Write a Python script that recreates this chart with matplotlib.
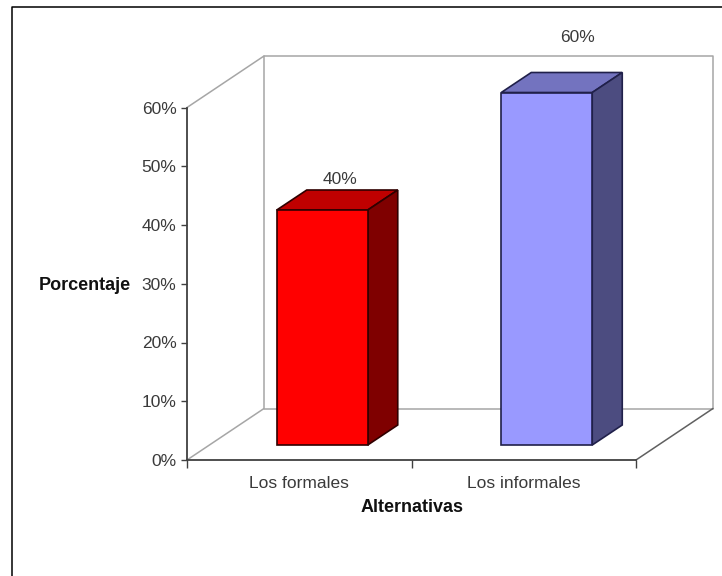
import matplotlib
matplotlib.use('Agg')
import matplotlib.pyplot as plt
from matplotlib.lines import Line2D
from matplotlib.patches import Polygon
from matplotlib.ticker import FuncFormatter

categories = ['Los formales', 'Los informales']
values = [40, 60]
value_labels = ['40%', '60%']
y_ticks = [0, 10, 20, 30, 40, 50, 60]

W, H = 722, 576
plt.rcParams['font.family'] = ['Liberation Sans', 'DejaVu Sans']

fig = plt.figure(figsize=(W / 100, H / 100), dpi=100)
# eje frontal en pixeles de la imagen
ax = fig.add_axes([187 / W, 1 - 460 / H, 449 / W, 352.5 / H])
ax.set_xlim(0, 2)
ax.set_ylim(0, 60)
px_x = 2 / 449      # unidades x por pixel
px_y = 60 / 352.5   # unidades y por pixel
dep_x = 77 * px_x   # profundidad de la caja 3D
dep_y = 51.5 * px_y


def wall(xs, ys, color, lw=1.1):
    ax.plot(xs, ys, color=color, lw=lw, clip_on=False, zorder=1, solid_capstyle='round')


# paredes
grey = '#a6a6a6'
wall([0, dep_x, dep_x, 0], [0, dep_y, 60 + dep_y, 60], grey)
wall([dep_x, 2 + dep_x, 2 + dep_x, dep_x], [60 + dep_y, 60 + dep_y, dep_y, dep_y], grey)
wall([2, 2 + dep_x], [0, dep_y], '#606060')

# barras con cara superior y lateral
bar_w = 91 * px_x
shift_x = 23 * px_x
shift_y = 15 * px_y
side_x = 30 * px_x
side_y = 20 * px_y
faces = ['#ff0000', '#9999ff']
tops = ['#bf0000', '#7373bf']
sides = ['#7f0000', '#4c4c80']
edges = ['#300000', '#20204a']
label_off = [(18, 30.5), (31, 55)]

for i, v in enumerate(values):
    x0 = i + 0.5 + shift_x - bar_w / 2
    x1 = x0 + bar_w
    y0 = shift_y
    y1 = shift_y + v
    ax.bar(x0, v, width=bar_w, bottom=y0, align='edge', color=faces[i],
           edgecolor=edges[i], linewidth=1.2, zorder=4, clip_on=False)
    ax.add_patch(Polygon([(x0, y1), (x1, y1), (x1 + side_x, y1 + side_y), (x0 + side_x, y1 + side_y)],
                         closed=True, facecolor=tops[i], edgecolor=edges[i], lw=1.2,
                         zorder=3, clip_on=False))
    ax.add_patch(Polygon([(x1, y0), (x1 + side_x, y0 + side_y), (x1 + side_x, y1 + side_y), (x1, y1)],
                         closed=True, facecolor=sides[i], edgecolor=edges[i], lw=1.2,
                         zorder=3, clip_on=False))
    ax.annotate(value_labels[i], xy=((x0 + x1) / 2, y1), xytext=(label_off[i][0] * 0.72, label_off[i][1] * 0.72),
                textcoords='offset points', ha='center', va='center', fontsize=12.5, color='#3a3a3a',
                annotation_clip=False)

# ejes
for s in ['top', 'right']:
    ax.spines[s].set_visible(False)
for s in ['left', 'bottom']:
    ax.spines[s].set_color('#404040')
    ax.spines[s].set_linewidth(1.3)
    ax.spines[s].set_zorder(2)
ax.patch.set_alpha(0)
ax.set_yticks(y_ticks)
ax.yaxis.set_major_formatter(FuncFormatter(lambda v, p: f'{v:.0f}%'))
ax.tick_params(axis='y', length=4.5, width=1, color='#404040', labelcolor='#3a3a3a', labelsize=12.5, pad=3)
ax.set_xticks([0, 1, 2])
ax.set_xticklabels([])
ax.tick_params(axis='x', length=5.5, width=1, color='#404040')
ax.set_xticks([0.5, 1.5], minor=True)
ax.set_xticklabels(categories, minor=True)
ax.tick_params(axis='x', which='minor', length=0, labelsize=12.5, labelcolor='#3a3a3a', pad=11.5)

ax.set_xlabel('Alternativas', fontweight='bold', fontsize=13, color='#111111')
ax.xaxis.set_label_coords(225 / 449, -47 / 352.5)
ax.xaxis.label.set_va('center')
ax.set_ylabel('Porcentaje', fontweight='bold', fontsize=13, color='#111111', rotation=0, ha='center', va='center')
ax.yaxis.set_label_coords(-102.5 / 449, 175 / 352.5)

# marco de la imagen
fig.add_artist(Line2D([12 / W, 12 / W, 1], [0, 1 - 6.5 / H, 1 - 6.5 / H], color='black', lw=1.1))

fig.savefig('out.png', dpi=100, facecolor='white')
